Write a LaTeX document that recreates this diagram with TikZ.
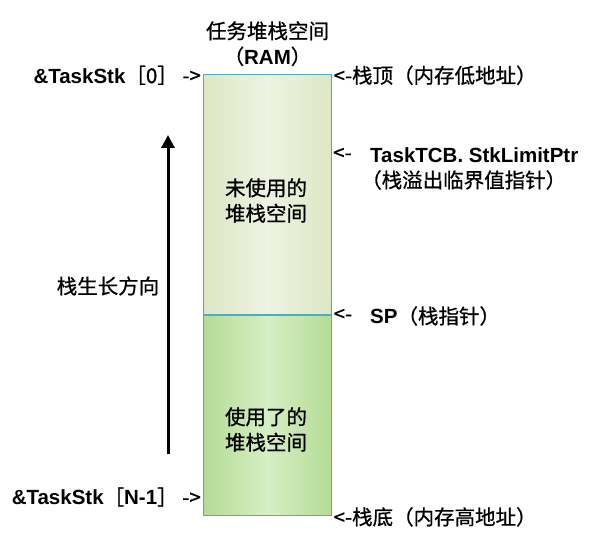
\documentclass[tikz,border=0pt]{standalone}
\usepackage{fontspec}
\setmainfont{Noto Sans CJK SC}[FakeBold=0.8]
\newfontfamily\latfont{Liberation Sans}
\usetikzlibrary{arrows.meta,positioning}
\definecolor{boxblue}{RGB}{75,172,198}
\definecolor{freeedge}{RGB}{220,231,195}
\definecolor{freemid}{RGB}{238,243,226}
\definecolor{usededge}{RGB}{180,220,149}
\definecolor{usedmid}{RGB}{214,238,196}
\newcommand{\bl}[1]{{\latfont\bfseries #1}}

\begin{document}
\begin{tikzpicture}[x=1pt,y=1pt,inner sep=0pt,
    every node/.style={font=\fontsize{20.5}{25.5}\selectfont},
    part/.style={draw=boxblue,line width=0.8pt,minimum width=128pt,anchor=north}]
        \useasboundingbox (0,0) rectangle (591,536);
        \node[part,minimum height=240pt,left color=freeedge,right color=freeedge,middle color=freemid] (free_part) at (267.5,461.7) {};
        \node[part,minimum height=200pt,left color=usededge,right color=usededge,middle color=usedmid] (used_part) [below=0pt of free_part] {};
        \node[align=center] (free_text) at (266,335.5) {未使用的\\堆栈空间};
        \node[align=center] (used_text) at (266,106.5) {使用了的\\堆栈空间};
        \node[align=center] (title) [above=8pt of free_part] {任务堆栈空间\\（\bl{RAM}）};
        \node[anchor=east] (first_addr) at ([xshift=-2pt,yshift=-1pt]free_part.north west) {\bl{\&TaskStk}［0］ ->};
        \node[anchor=east] (last_addr) at (201,39) {\bl{\&TaskStk}［\bl{N-1}］ ->};
        \node[anchor=west] (stack_top) at ([xshift=1.5pt,yshift=-1pt]free_part.north east) {<-栈顶（内存低地址）};
        \node[anchor=west] (limit_arrow) at (333,382) {<-};
        \node[anchor=west] (limit_name) at (370,381) {\bl{TaskTCB. StkLimitPtr}};
        \node[anchor=west] (limit_note) at (361,356) {（栈溢出临界值指针）};
        \node[anchor=west] (sp_arrow) at ([xshift=1.5pt]used_part.north east) {<-};
        \node[anchor=west] (sp_name) at (370,220) {\bl{SP}（栈指针）};
        \node[anchor=west] (stack_bottom) at ([xshift=1.5pt,yshift=-1pt]used_part.south east) {<-栈底（内存高地址）};
        \coordinate (grow_tail) at (168,82);
        \coordinate (grow_head) at (168,401);
        \draw[-{Triangle[width=13pt,length=13pt]},line width=3pt] (grow_tail) -- (grow_head);
        \node (grow_label) at (108,250) {栈生长方向};
      \end{tikzpicture}
\end{document}
